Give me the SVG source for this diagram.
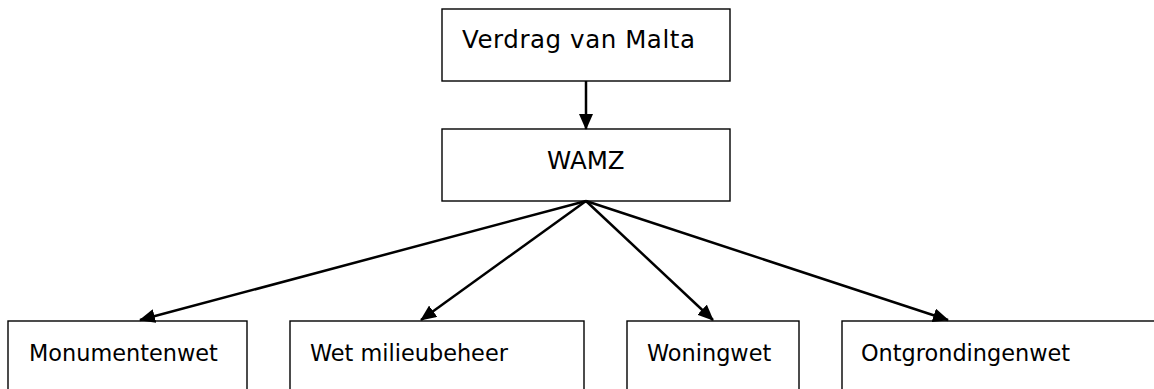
<svg xmlns="http://www.w3.org/2000/svg" width="1154" height="389" viewBox="0 0 1154 389">
<style>
.box{fill:#fff;stroke:#000;stroke-width:1.4}
.lbl{font-family:"DejaVu Sans","Verdana",sans-serif;font-size:22.4px;fill:#000}
.big{font-size:24.5px}
.conn{stroke:#000;stroke-width:2.5;fill:none;marker-end:url(#ah)}
</style>
<defs>
<marker id="ah" markerUnits="userSpaceOnUse" markerWidth="16" markerHeight="14" refX="15" refY="7" orient="auto">
<path d="M0,0 L16,7 L0,14 Z" fill="#000"/>
</marker>
</defs>
<rect width="1154" height="389" fill="#fff"/>
<g id="verdrag">
<rect class="box" x="442" y="9" width="288" height="72"/>
<text class="lbl big" x="462" y="48" textLength="233" lengthAdjust="spacing">Verdrag van Malta</text>
</g>
<g id="wamz">
<rect class="box" x="442" y="129" width="288" height="72"/>
<text class="lbl big" x="547" y="169">WAMZ</text>
</g>
<g id="monumentenwet">
<rect class="box" x="8" y="321" width="239" height="80"/>
<text class="lbl" x="29" y="361">Monumentenwet</text>
</g>
<g id="wetmilieubeheer">
<rect class="box" x="290" y="321" width="294" height="80"/>
<text class="lbl" x="310" y="361">Wet milieubeheer</text>
</g>
<g id="woningwet">
<rect class="box" x="627" y="321" width="172" height="80"/>
<text class="lbl" x="647" y="361">Woningwet</text>
</g>
<g id="ontgrondingenwet">
<rect class="box" x="842" y="321" width="330" height="80"/>
<text class="lbl" x="861" y="361">Ontgrondingenwet</text>
</g>
<g id="connectors">
<line class="conn" x1="586" y1="81" x2="586" y2="129"/>
<line class="conn" x1="586" y1="201" x2="140" y2="320"/>
<line class="conn" x1="586" y1="201" x2="421" y2="320"/>
<line class="conn" x1="586" y1="201" x2="713" y2="320"/>
<line class="conn" x1="586" y1="201" x2="948" y2="320"/>
</g>
</svg>
